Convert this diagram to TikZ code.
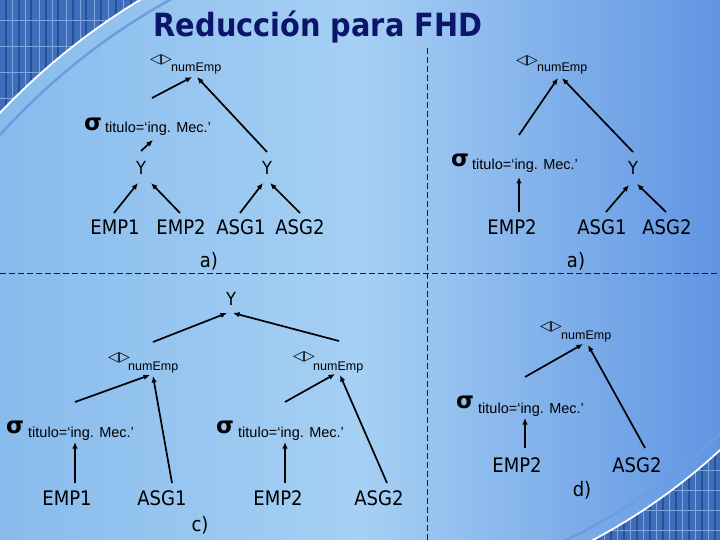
\documentclass[tikz,border=0pt]{standalone}
\usepackage{fontspec}
\setmainfont{DejaVu Sans Condensed}
\newfontfamily\arialf{Liberation Sans}
\newfontfamily\dejav{DejaVu Sans}
\usetikzlibrary{arrows.meta}
\definecolor{navy}{HTML}{0C156A}
\definecolor{bgL}{HTML}{88BBEC}
\definecolor{bgM}{HTML}{A6D0F4}
\definecolor{bgR}{HTML}{6095E3}
\definecolor{gridA}{HTML}{3E6DBA}
\definecolor{gridD}{HTML}{264F9A}
\definecolor{gridL}{HTML}{7FA6E0}
\definecolor{bandC}{HTML}{6E9DDD}
\begin{document}
\begin{tikzpicture}[x=1pt,y=-1pt,
  lbl/.style={font=\fontsize{20}{20}\selectfont, inner sep=0pt, anchor=base},
  ylbl/.style={font=\fontsize{18}{18}\selectfont, inner sep=0pt, anchor=base},
  numl/.style={font=\arialf\fontsize{12.5}{12.5}\selectfont, inner sep=0pt, anchor=base west},
  cond/.style={font=\arialf\fontsize{14.5}{14.5}\selectfont, inner sep=0pt, anchor=base west},
  sig/.style={font=\dejav\bfseries\fontsize{23}{23}\selectfont, inner sep=0pt},
  proj/.style={font=\dejav\bfseries\fontsize{14}{14}\selectfont, inner sep=0pt},
  arr/.style={-{Latex[length=6.5pt,width=5.5pt]}, line width=1.7pt},
  sepline/.style={navy, line width=1pt, dash pattern=on 6pt off 3pt}]
\useasboundingbox (0,0) rectangle (720,540);
\shade[left color=bgL, right color=bgR, middle color=bgM] (0,0) rectangle (720,540);

% decorations
\begin{scope}
\clip (0,0) rectangle (720,540);
\begin{scope}
\clip (-70,-70) -- plot[domain=250:215,samples=40] ({490+675*cos(\x)},{577+675*sin(\x)}) -- cycle;
\fill[gridA] (0,0) rectangle (270,200);
\foreach \gx in {6,19,31,46,58,73,86,101,116,131,146,161}
  \draw[gridD, line width=2.5] (\gx,0) -- (\gx,200);
\foreach \gx in {12,25,39,52,66,80,94,108,123,138,153}
  \draw[gridL, line width=0.8] (\gx,0) -- (\gx,200);
\foreach \gy in {20,46,72,98}
  \draw[gridL, line width=0.8] (0,\gy) -- (270,\gy);
\end{scope}
\draw[bandC, line width=2.5] plot[domain=250:215,samples=40] ({490+660*cos(\x)},{577+660*sin(\x)});
\draw[white, line width=1.8] plot[domain=250:215,samples=40] ({490+675*cos(\x)},{577+675*sin(\x)});
\begin{scope}
\clip (800,620) -- plot[domain=35:72,samples=40] ({308+608*cos(\x)},{3+608*sin(\x)}) -- cycle;
\fill[gridA] (480,400) rectangle (720,540);
\foreach \gx in {598,611,624,637,650,663,676,689,702,715}
  \draw[gridD, line width=2.5] (\gx,400) -- (\gx,540);
\foreach \gx in {604,617,630,643,656,669,682,695,708}
  \draw[gridL, line width=0.8] (\gx,400) -- (\gx,540);
\foreach \gy in {470,490,510,530}
  \draw[gridL, line width=0.8] (480,\gy) -- (720,\gy);
\end{scope}
\draw[bandC, line width=2.5] plot[domain=35:72,samples=40] ({308+596*cos(\x)},{3+596*sin(\x)});
\draw[white, line width=1.8] plot[domain=35:72,samples=40] ({308+608*cos(\x)},{3+608*sin(\x)});
\end{scope}

% title and separators
\node[font=\bfseries\fontsize{32}{32}\selectfont, text=navy, inner sep=0pt, anchor=base] (title) at (318,37) {Reducción para FHD};
\draw[sepline] (427,48) -- (427,540);
\draw[sepline] (0,273) -- (720,273);

% panel a (left)
\node[proj] (pA) at (161,60) {◁▷};
\node[numl] (nA) at (171,72) {numEmp};
\node[sig] (sA) at (93,124) {σ};
\node[cond] (tA) at (105,133) {titulo=‘ing. Mec.’};
\node[ylbl] (yA1) at (141,175) {Y};
\node[ylbl] (yA2) at (267,175) {Y};
\node[lbl] (e1A) at (115,235) {EMP1};
\node[lbl] (e2A) at (181,235) {EMP2};
\node[lbl] (g1A) at (241,235) {ASG1};
\node[lbl] (g2A) at (300,235) {ASG2};
\node[lbl] (labA) at (209,267) {a)};
\draw[arr] ([shift={(47,-35)}]tA.base west) -- ([shift={(21,5)}]nA.base west);
\draw[arr] ([shift={(0,-23)}]yA2.base) -- ([shift={(26,5)}]nA.base west);
\draw[arr] ([shift={(0,-24)}]yA1.base) -- ([shift={(48,7)}]tA.base west);
\draw[arr] ([shift={(-1,-22)}]e1A.base) -- ([shift={(-3,8)}]yA1.base);
\draw[arr] ([shift={(-1,-22)}]e2A.base) -- ([shift={(10,8)}]yA1.base);
\draw[arr] ([shift={(-1,-22)}]g1A.base) -- ([shift={(-4,8)}]yA2.base);
\draw[arr] ([shift={(0,-22)}]g2A.base) -- ([shift={(3,8)}]yA2.base);

% panel a (right)
\node[proj] (pB) at (527,61) {◁▷};
\node[numl] (nB) at (537,72) {numEmp};
\node[sig] (sB) at (460,160) {σ};
\node[cond] (tB) at (472,170) {titulo=‘ing. Mec.’};
\node[ylbl] (yB) at (633,175) {Y};
\node[lbl] (e2B) at (512,235) {EMP2};
\node[lbl] (g1B) at (602,235) {ASG1};
\node[lbl] (g2B) at (667,235) {ASG2};
\node[lbl] (labB) at (576,267) {a)};
\draw[arr] ([shift={(47,-35)}]tB.base west) -- ([shift={(21,6)}]nB.base west);
\draw[arr] ([shift={(0,-23)}]yB.base) -- ([shift={(25,6)}]nB.base west);
\draw[arr] ([shift={(7,-23)}]e2B.base) -- ([shift={(47,7)}]tB.base west);
\draw[arr] ([shift={(4,-23)}]g1B.base) -- ([shift={(-4,10)}]yB.base);
\draw[arr] ([shift={(-1,-23)}]g2B.base) -- ([shift={(4,9)}]yB.base);

% panel c
\node[ylbl] (yC) at (231,305) {Y};
\node[proj] (pC1) at (119,358) {◁▷};
\node[numl] (nC1) at (128,370) {numEmp};
\node[proj] (pC2) at (304,357) {◁▷};
\node[numl] (nC2) at (313,370) {numEmp};
\node[sig] (sC1) at (15,427) {σ};
\node[cond] (tC1) at (28,437) {titulo=‘ing. Mec.’};
\node[sig] (sC2) at (225,427) {σ};
\node[cond] (tC2) at (238,437) {titulo=‘ing. Mec.’};
\node[lbl] (e1C) at (67,505) {EMP1};
\node[lbl] (g1C) at (162,505) {ASG1};
\node[lbl] (e2C) at (278,505) {EMP2};
\node[lbl] (g2C) at (379,505) {ASG2};
\node[lbl] (labC) at (200,531) {c)};
\draw[arr] ([shift={(25,-28)}]nC1.base west) -- ([shift={(-4,8)}]yC.base);
\draw[arr] ([shift={(26,-29)}]nC2.base west) -- ([shift={(2,8)}]yC.base);
\draw[arr] ([shift={(47,-35)}]tC1.base west) -- ([shift={(22,5)}]nC1.base west);
\draw[arr] ([shift={(10,-22)}]g1C.base) -- ([shift={(25,6)}]nC1.base west);
\draw[arr] ([shift={(8,-22)}]e1C.base) -- ([shift={(47,5)}]tC1.base west);
\draw[arr] ([shift={(47,-35)}]tC2.base west) -- ([shift={(22,4)}]nC2.base west);
\draw[arr] ([shift={(8,-22)}]g2C.base) -- ([shift={(27,5)}]nC2.base west);
\draw[arr] ([shift={(7,-22)}]e2C.base) -- ([shift={(47,5)}]tC2.base west);

% panel d
\node[proj] (pD) at (551,327) {◁▷};
\node[numl] (nD) at (561,339) {numEmp};
\node[sig] (sD) at (465,402) {σ};
\node[cond] (tD) at (478,413) {titulo=‘ing. Mec.’};
\node[lbl] (e2D) at (517,472) {EMP2};
\node[lbl] (g2D) at (637,472) {ASG2};
\node[lbl] (labD) at (582,496) {d)};
\draw[arr] ([shift={(47,-36)}]tD.base west) -- ([shift={(22,5)}]nD.base west);
\draw[arr] ([shift={(8,-24)}]g2D.base) -- ([shift={(27,6)}]nD.base west);
\draw[arr] ([shift={(8,-24)}]e2D.base) -- ([shift={(47,5)}]tD.base west);
\end{tikzpicture}
\end{document}
